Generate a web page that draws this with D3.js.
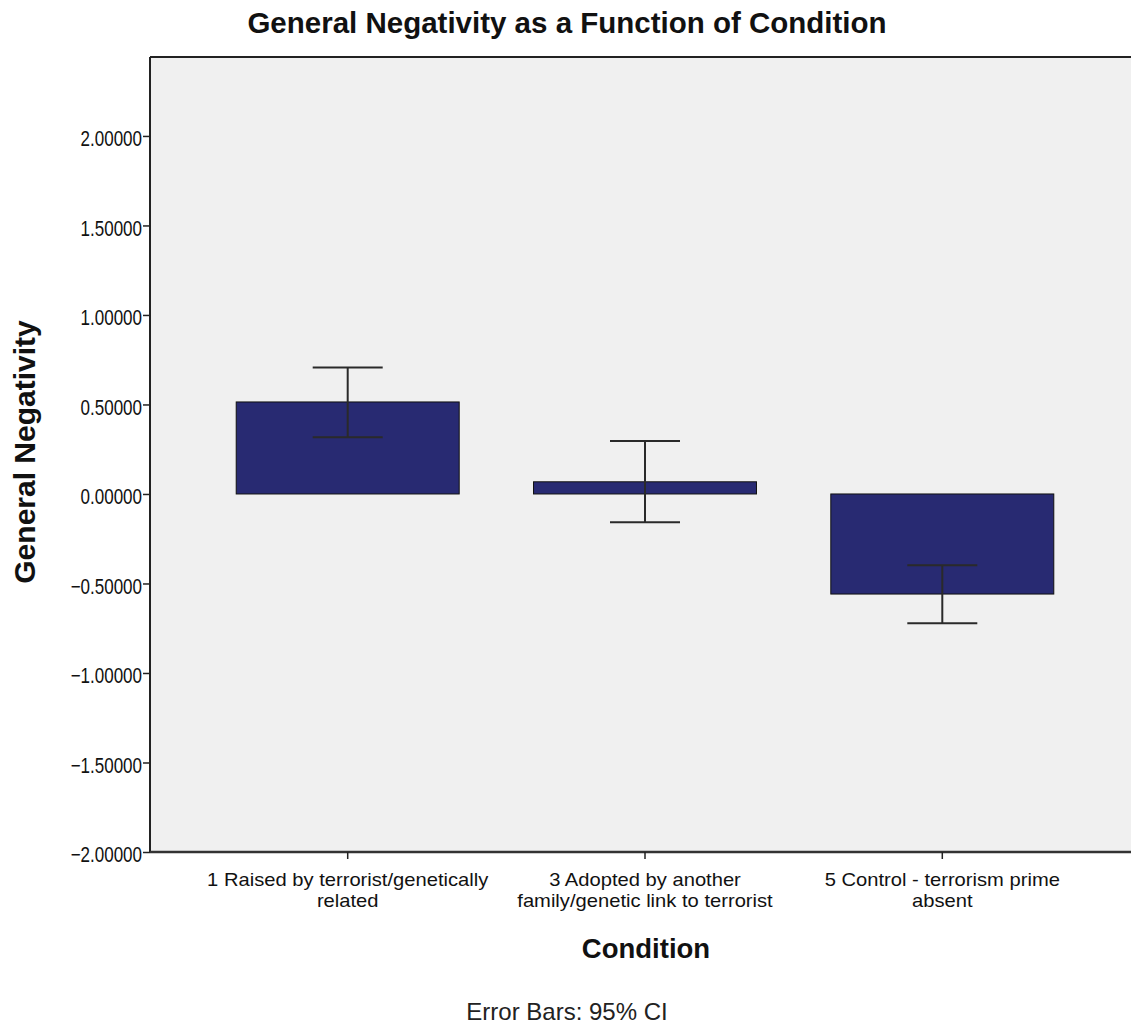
<!DOCTYPE html>
<html><head><meta charset="utf-8">
<script src="https://cdn.jsdelivr.net/npm/d3@7"></script>
<style>body{margin:0;background:#fff;}svg{display:block;font-family:"Liberation Sans",Arial,sans-serif;}</style>
</head><body>
<svg id="c" width="1131" height="1028"></svg>
<script>
const categories = ["1 Raised by terrorist/genetically|related", "3 Adopted by another|family/genetic link to terrorist", "5 Control - terrorism prime|absent"];
const means = [0.514, 0.068, -0.559];
const ciLow = [0.317, -0.158, -0.722];
const ciHigh = [0.707, 0.296, -0.398];
const yTicks = [-2, -1.5, -1, -0.5, 0, 0.5, 1, 1.5, 2];

const svg = d3.select("#c");
const L = 150, T = 57, R = 1140, B = 852;
const y = d3.scaleLinear().domain([-2, 2.441]).range([B, T]);
const x = d3.scaleBand().domain(categories).range([L, R]).paddingInner(0.25).paddingOuter(0.29);

svg.append("rect").attr("x", L).attr("y", T).attr("width", R - L).attr("height", B - T).attr("fill", "#f0f0f0");

// bars
svg.selectAll("rect.bar").data(categories).enter().append("rect").attr("class", "bar")
  .attr("x", d => x(d)).attr("width", x.bandwidth())
  .attr("y", (d, i) => y(Math.max(0, means[i])))
  .attr("height", (d, i) => Math.abs(y(means[i]) - y(0)))
  .attr("fill", "#282a72").attr("stroke", "#111").attr("stroke-width", 1);

// error bars
const eb = svg.append("g").attr("stroke", "#2a2a2a").attr("stroke-width", 2);
categories.forEach((c, i) => {
  const cx = x(c) + x.bandwidth() / 2;
  eb.append("line").attr("x1", cx).attr("x2", cx).attr("y1", y(ciLow[i])).attr("y2", y(ciHigh[i]));
  [ciLow[i], ciHigh[i]].forEach(v => eb.append("line").attr("x1", cx - 35).attr("x2", cx + 35).attr("y1", y(v)).attr("y2", y(v)));
});

// frame
svg.append("line").attr("x1", L).attr("x2", R).attr("y1", T).attr("y2", T).attr("stroke", "#222").attr("stroke-width", 2);

// y axis
const ya = svg.append("g").attr("transform", `translate(${L},0)`)
  .call(d3.axisLeft(y).tickValues(yTicks).tickFormat(d3.format(".5f")).tickSize(7).tickPadding(1));
ya.select(".domain").attr("stroke", "#222").attr("stroke-width", 2).attr("d", `M0,${T}V${B}`);
ya.selectAll(".tick line").attr("stroke", "#222").attr("stroke-width", 1.5);
ya.selectAll(".tick text").attr("font-size", 17).attr("fill", "#111").attr("dy", "0.45em")
  .attr("transform", "scale(1,1.25)").attr("font-family", "Liberation Sans, Arial, sans-serif");

// x axis
const xa = svg.append("g").attr("transform", `translate(0,${B})`)
  .call(d3.axisBottom(x).tickSize(7).tickFormat(""));
xa.select(".domain").attr("stroke", "#333").attr("stroke-width", 2.5).attr("d", `M${L},0H${R}`);
xa.selectAll(".tick line").attr("stroke", "#222").attr("stroke-width", 1.5);
categories.forEach(c => {
  const cx = x(c) + x.bandwidth() / 2;
  c.split("|").forEach((s, j) => svg.append("text").attr("text-anchor", "middle").attr("font-size", 18).attr("fill", "#111")
    .attr("transform", `translate(${cx},${886 + j * 21}) scale(1.12,1)`).text(s));
});

// titles
svg.append("text").attr("x", 567).attr("y", 33).attr("text-anchor", "middle").attr("font-size", 29.5).attr("font-weight", "bold").attr("fill", "#111")
  .text("General Negativity as a Function of Condition");
svg.append("text").attr("x", 646).attr("y", 958).attr("text-anchor", "middle").attr("font-size", 27.5).attr("font-weight", "bold").attr("fill", "#111")
  .text("Condition");
svg.append("text").attr("transform", "translate(35,452) rotate(-90)").attr("text-anchor", "middle").attr("font-size", 30).attr("font-weight", "bold").attr("fill", "#111")
  .text("General Negativity");
svg.append("text").attr("x", 567).attr("y", 1020).attr("text-anchor", "middle").attr("font-size", 24).attr("fill", "#222")
  .text("Error Bars: 95% CI");
</script>
</body></html>
